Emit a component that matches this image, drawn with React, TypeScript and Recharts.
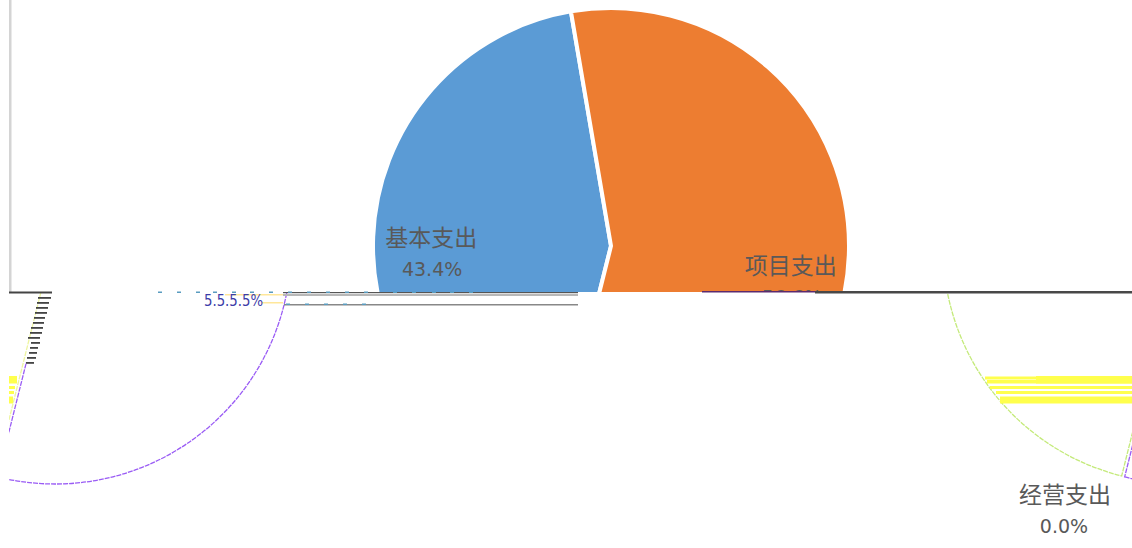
import React from "react";
import { PieChart, Pie, Cell } from "recharts";

const categories = ["基本支出", "项目支出", "经营支出"];
const values = [43.4, 56.6, 0.0];
const hatchRows = [297, 302, 307, 312, 317, 322, 327, 332, 337, 342, 347, 352, 357, 362];
const hatchStarts = [38, 37, 36, 35, 34, 33, 31, 30, 28, 31, 30, 29, 27, 26];
const hatchEnds = [51, 49, 48, 47, 45, 44, 43, 42, 40, 40, 38, 37, 36, 34];
const dashTop = [158, 177, 196, 213, 232, 250, 269, 288, 307, 326, 345, 364, 393, 412, 432, 450, 469];
const dashLow = [286, 305, 324, 343, 362];
const yellowRows = [
  [376.5, 3, 985, 17],
  [380, 3.5, 987, 17],
  [386, 3, 990, 15],
  [391, 3, 996, 14],
  [396.5, 7, 1000, 13],
];
const labelShift = [14, 28];

const W = 1132;
const H = 548;
const data = categories.map((name, i) => ({ name, value: values[i] }));
const START = 99.7;
const R = 238;
const GHOST_R = 236;
const FONT_CJK = '"Noto Sans CJK SC", sans-serif';
const FONT_NUM = '"DejaVu Sans", sans-serif';
const TEXT = "#595959";
const YELLOW = "#ffff4d";
const PURPLE = "#9a5cf5";

function PieLabel(props: any) {
  const { cx, cy, midAngle, index } = props;
  if (index > 1) return null;
  const r = 180;
  const a = (midAngle * Math.PI) / 180;
  const x = cx + r * Math.cos(a);
  const y = cy - r * Math.sin(a) + labelShift[index];
  return (
    <g>
      <text x={x} y={y - 7} textAnchor="middle" fontFamily={FONT_CJK} fontSize={23} fill={TEXT}>
        {categories[index]}
      </text>
      <text x={x + 1} y={y + 23} textAnchor="middle" fontFamily={FONT_NUM} fontSize={19} fill={TEXT}>
        {values[index].toFixed(1)}%
      </text>
    </g>
  );
}

function Ghost(props: { cx: number; cy: number; strokes: string[]; clip: string }) {
  const { cx, cy, strokes, clip } = props;
  return (
    <div style={{ position: "absolute", left: 0, top: 0, width: W, height: H, clipPath: clip }}>
      <PieChart width={W} height={H} margin={{ top: 0, right: 0, bottom: 0, left: 0 }}>
        <Pie
          data={data}
          dataKey="value"
          nameKey="name"
          cx={cx}
          cy={cy}
          outerRadius={GHOST_R}
          innerRadius={0}
          startAngle={START}
          endAngle={START + 360}
          isAnimationActive={false}
          label={false}
          labelLine={false}
        >
          {data.map((d, i) => (
            <Cell
              key={d.name}
              fill="none"
              stroke={strokes[i] || "none"}
              strokeWidth={1.3}
              strokeDasharray="5 1"
            />
          ))}
        </Pie>
      </PieChart>
    </div>
  );
}

const LOWER = `polygon(9px 292px, ${W}px 292px, ${W}px ${H}px, 9px ${H}px)`;
const LOWER_NO_HATCH = `polygon(9px 362px, 50px 362px, 50px 292px, ${W}px 292px, ${W}px ${H}px, 9px ${H}px)`;

export default function App() {
  return (
    <div style={{ position: "absolute", left: 0, top: 0, width: W, height: H, overflow: "hidden", background: "#fff" }}>
      <div style={{ position: "absolute", left: 0, top: 0, width: W, height: 292, overflow: "hidden" }}>
        <PieChart width={W} height={H} margin={{ top: 0, right: 0, bottom: 0, left: 0 }}>
          <Pie
            data={data}
            dataKey="value"
            nameKey="name"
            cx={611}
            cy={246}
            outerRadius={R}
            innerRadius={0}
            startAngle={START}
            endAngle={START + 360}
            stroke="#ffffff"
            strokeWidth={4}
            isAnimationActive={false}
            label={PieLabel}
            labelLine={false}
          >
            <Cell fill="#5b9bd5" />
            <Cell fill="#ed7d31" />
            <Cell fill="#a5a5a5" />
          </Pie>
        </PieChart>
      </div>

      <Ghost cx={55} cy={248} strokes={["none", PURPLE]} clip={LOWER_NO_HATCH} />
      <Ghost cx={52} cy={248} strokes={["#eef5a0", "none"]} clip={LOWER} />
      <Ghost cx={1179} cy={247} strokes={["#c4ea7a", "none"]} clip={LOWER} />
      <Ghost cx={1182} cy={248} strokes={["none", PURPLE]} clip={LOWER} />

      <svg width={W} height={H} style={{ position: "absolute", left: 0, top: 0 }}>
        <rect x={9} y={0} width={2.5} height={292} fill="#d4d4d4" />
        <rect x={9} y={291.5} width={43} height={2} fill="#444444" />
        <rect x={702} y={291} width={113} height={1.5} fill="#5c2a6e" />
        <rect x={815} y={291} width={W - 815} height={2.5} fill="#484848" />

        <rect x={283} y={292} width={295} height={1.2} fill="#555555" />
        <rect x={283} y={294} width={295} height={2} fill="#b8b8b8" />
        <rect x={284} y={304} width={294} height={1.5} fill="#888888" />

        {dashTop.map((x) => (
          <rect key={x} x={x} y={291.5} width={4} height={1.5} fill="#5a9cc0" />
        ))}
        {dashLow.map((x) => (
          <rect key={x} x={x} y={303.5} width={4} height={1.5} fill="#5a9cc0" />
        ))}
        {hatchRows.map((y, i) => (
          <rect key={y} x={hatchStarts[i]} y={y} width={hatchEnds[i] - hatchStarts[i]} height={1.8} fill="#444444" />
        ))}
        {yellowRows.map((r) => (
          <rect key={r[0]} x={r[2]} y={r[0]} width={W - r[2]} height={r[1]} fill={YELLOW} />
        ))}
        <rect x={1036} y={376} width={W - 1036} height={7.5} fill={YELLOW} />
        <rect x={9} y={376} width={8} height={7.5} fill={YELLOW} />
        {yellowRows.slice(2).map((r) => (
          <rect key={"l" + r[0]} x={9} y={r[0]} width={r[3] - 9} height={r[1]} fill={YELLOW} />
        ))}
        <rect x={225} y={294} width={58} height={1.5} fill="#ffe79a" />
        <rect x={262} y={302} width={21} height={1.5} fill="#ffe79a" />
        <text
          x={204}
          y={306}
          fontFamily={FONT_NUM}
          fontSize={16}
          fill="#3c3ca8"
          textLength={59}
          lengthAdjust="spacingAndGlyphs"
        >
          5.5.5.5%
        </text>

        <text x={1065} y={503} textAnchor="middle" fontFamily={FONT_CJK} fontSize={23} fill={TEXT}>
          {categories[2]}
        </text>
        <text x={1064} y={533} textAnchor="middle" fontFamily={FONT_NUM} fontSize={19} fill={TEXT}>
          {values[2].toFixed(1)}%
        </text>
      </svg>
    </div>
  );
}
